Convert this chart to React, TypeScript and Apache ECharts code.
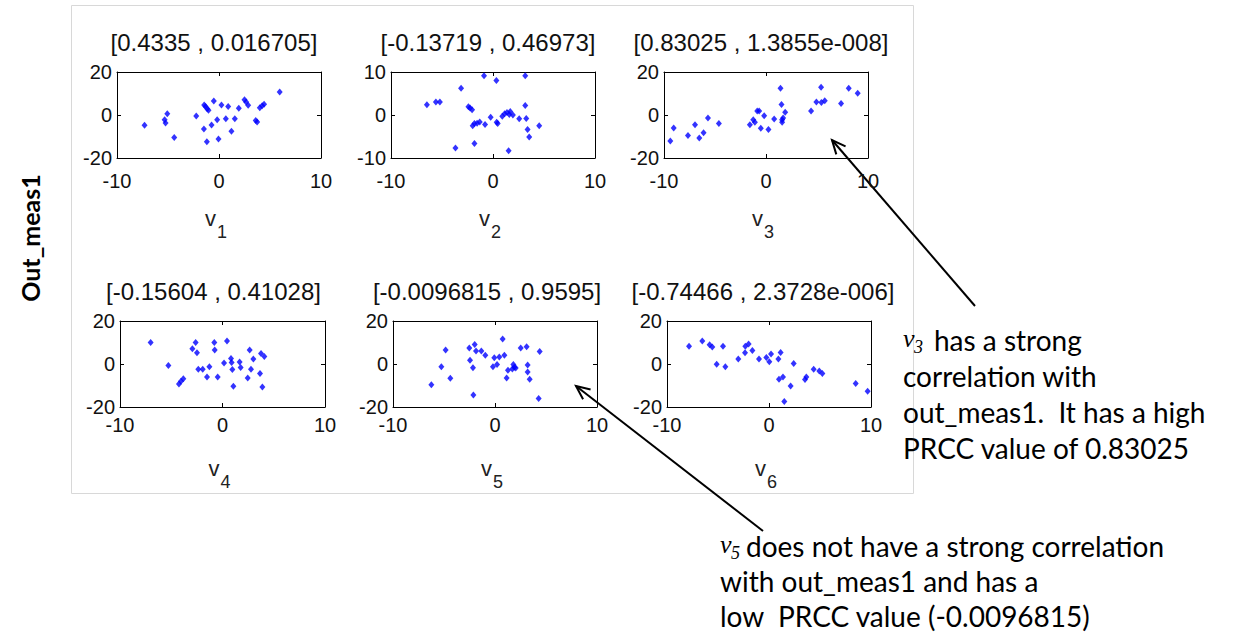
import React, { useEffect, useRef } from "react";
import * as echarts from "echarts";

// ---- data ----
const v1x = [-7.3, -5.33, -5.24, -5.07, -4.39, -2.23, -1.45, -1.32, -1.16, -1.03, -1.48, -1.19, -0.73, -0.51, -0.18, -0.05, 0.24, 0.67, 0.9, 1.22, 1.55, 1.94, 2.5, 2.66, 2.86, 3.6, 3.74, 4.0, 4.23, 4.42, 5.95];
const v1y = [-4.8, -2.2, -3.7, 0.6, -10.5, -0.5, 4.6, 4.0, 2.9, 2.2, -6.5, -12.4, -4.7, 6.5, -2.2, -11.2, 4.6, -1.7, 4.0, -7.6, -1.7, 3.1, 7.1, 6.0, 4.5, -2.5, -3.3, 3.4, 4.3, 5.0, 10.7];

const v2x = [-6.48, -5.6, -5.21, -3.13, -3.68, -2.41, -2.25, -2.05, -1.99, -1.82, -1.56, -1.3, -1.82, -0.88, -0.78, -0.23, 0.33, 0.36, 0.46, 0.91, 1.14, 1.37, 1.6, 1.69, 1.95, 1.53, 2.57, 3.16, 3.16, 3.26, 3.39, 3.55, 4.53];
const v2y = [2.4, 3.0, 3.0, 6.2, -7.7, 1.9, 1.6, 1.2, -2.5, -2.0, -1.9, -1.6, -6.6, 9.1, -2.2, -0.5, 8.0, -1.7, -2.0, -0.3, 0.3, 0.6, 0.1, 0.8, 0.0, -8.3, -0.9, 9.1, 2.2, -0.8, -3.4, -5.1, -2.5];

const v3x = [-9.38, -9.05, -7.65, -6.96, -6.54, -6.12, -5.69, -4.62, -1.58, -1.25, -1.09, -0.86, -0.67, -0.51, -0.18, 0.24, 0.8, 1.42, 1.52, 1.58, 1.58, 1.68, 1.88, 4.42, 4.94, 5.4, 5.43, 5.76, 7.36, 8.11, 8.99];
const v3y = [-12.1, -6.0, -9.5, -4.5, -10.7, -8.3, -1.4, -3.9, -4.5, -2.2, -3.4, 1.9, 1.9, -6.2, -0.4, -6.8, -1.9, 12.4, 4.9, -2.2, -3.4, -1.4, 1.3, 1.9, 6.0, 12.9, 5.8, 6.6, 5.4, 12.4, 10.1];

const v4x = [-7.01, -5.28, -4.25, -4.05, -3.82, -2.94, -2.62, -2.49, -2.36, -1.93, -1.51, -1.28, -0.8, -0.76, -0.47, 0.15, 0.44, 0.83, 0.89, 0.96, 1.06, 1.67, 1.77, 2.46, 2.65, 2.78, 3.01, 3.66, 3.76, 3.89, 4.08];
const v4y = [10.0, -0.7, -9.3, -8.0, -6.9, 7.1, 10.0, 5.2, -2.4, -2.4, -6.0, -1.3, 10.0, 6.5, -6.0, 0.5, 10.7, 2.6, 0.7, -2.6, -10.4, 0.9, -1.6, -6.5, 6.5, -2.4, 2.3, -4.4, 4.9, -10.7, 3.5];

const v5x = [-6.24, -5.26, -4.84, -4.38, -2.52, -2.45, -2.16, -2.12, -1.99, -1.86, -1.34, -0.95, -0.2, -0.07, 0.2, 0.42, 0.75, 0.92, 1.14, 1.27, 1.7, 1.8, 1.9, 2.03, 2.52, 3.1, 3.2, 3.2, 3.4, 4.28, 4.38];
const v5y = [-9.6, -1.3, 6.5, -6.6, 7.5, 1.8, -1.8, -14.4, 9.1, 6.0, 6.0, 4.1, -1.3, 2.9, -0.2, 3.3, 11.6, 4.1, -6.5, -2.9, -2.3, -0.2, -1.5, -1.9, 7.5, 8.0, -0.5, -3.7, -7.1, -16.0, 5.8];

const v6x = [-7.84, -6.54, -5.82, -5.56, -5.13, -4.51, -4.28, -3.01, -2.35, -2.32, -2.0, -1.63, -0.98, -0.26, 0.03, 0.2, 0.92, 0.98, 1.14, 1.37, 1.5, 2.12, 2.42, 3.53, 3.66, 4.38, 4.93, 5.23, 8.5, 9.67];
const v6y = [8.2, 10.7, 8.9, 7.9, -0.1, 8.2, -1.3, 2.3, 5.2, 8.3, 9.3, 6.3, 2.3, 3.0, 1.0, 4.7, 2.3, -7.1, 5.4, -6.0, -17.4, -10.2, 0.2, -7.2, -6.0, -2.4, -3.3, -4.4, -9.1, -12.7];

const titles = [
  "[0.4335 , 0.016705]",
  "[-0.13719 , 0.46973]",
  "[0.83025 , 1.3855e-008]",
  "[-0.15604 , 0.41028]",
  "[-0.0096815 , 0.9595]",
  "[-0.74466 , 2.3728e-006]",
];
const subscripts = ["1", "2", "3", "4", "5", "6"];
const xTicks = [-10, 10, 10]; // min, max, interval
const yRanges: [number, number, number][] = [
  [-20, 20, 20],
  [-10, 10, 10],
  [-20, 20, 20],
  [-20, 20, 20],
  [-20, 20, 20],
  [-20, 20, 20],
];
const yLabel = "Out_meas1";
const note1Sub = "3";
const note1First = "has a strong";
const note1 = ["correlation with", "out_meas1.  It has a high", "PRCC value of 0.83025"];
const note2Sub = "5";
const note2First = "does not have a strong correlation";
const note2 = ["with out_meas1 and has a", "low  PRCC value (-0.0096815)"];

// ---- layout ----
const grids = [
  { left: 117, top: 72, width: 204, height: 86, labelMargin: 13, nameDy: 60, titleDx: -5 },
  { left: 391, top: 72, width: 204, height: 86, labelMargin: 13, nameDy: 60, titleDx: -5 },
  { left: 664, top: 72, width: 204, height: 86, labelMargin: 13, nameDy: 60, titleDx: -5 },
  { left: 120, top: 321, width: 205, height: 86, labelMargin: 8, nameDy: 61, titleDx: -9 },
  { left: 393, top: 321, width: 204, height: 86, labelMargin: 8, nameDy: 61, titleDx: -8 },
  { left: 667, top: 321, width: 204, height: 86, labelMargin: 8, nameDy: 61, titleDx: -6 },
];

const AX_FONT = "Liberation Sans, Arial, sans-serif";
const NOTE_FONT = "Lato, 'Open Sans', sans-serif";
const SERIF = "Liberation Serif, 'Times New Roman', serif";

function arrowHead(tip: number[], tail: number[], len = 15, ang = 0.42) {
  const a = Math.atan2(tail[1] - tip[1], tail[0] - tip[0]);
  return [
    [tip[0] + len * Math.cos(a + ang), tip[1] + len * Math.sin(a + ang)],
    [tip[0], tip[1]],
    [tip[0] + len * Math.cos(a - ang), tip[1] + len * Math.sin(a - ang)],
  ];
}

export default function App() {
  const ref = useRef<HTMLDivElement>(null);
  useEffect(() => {
    if (!ref.current) return;
    const chart = echarts.init(ref.current, undefined, { renderer: "svg" });
    const xsAll = [v1x, v2x, v3x, v4x, v5x, v6x];
    const ysAll = [v1y, v2y, v3y, v4y, v5y, v6y];

    const gridOpts: any[] = [];
    const xAxes: any[] = [];
    const yAxes: any[] = [];
    const series: any[] = [];
    const graphics: any[] = [];

    graphics.push({
      type: "rect", z: -100,
      shape: { x: 71.5, y: 5.5, width: 842, height: 488 },
      style: { fill: "#fff", stroke: "#d8d8d8", lineWidth: 1 },
    });

    const lineStyle = { color: "#000", width: 1 };
    const tickStyle = { show: true, inside: true, length: 4, lineStyle: { color: "#000", width: 1 } };

    grids.forEach((g, i) => {
      gridOpts.push({ left: g.left, top: g.top, width: g.width, height: g.height, containLabel: false });
      const [ymin, ymax, yint] = yRanges[i];
      xAxes.push({
        gridIndex: i, type: "value", position: "bottom",
        min: xTicks[0], max: xTicks[1], interval: xTicks[2],
        axisLine: { show: true, onZero: false, lineStyle },
        axisTick: tickStyle,
        splitLine: { show: false },
        axisLabel: { show: true, margin: g.labelMargin, fontSize: 20, color: "#111", fontFamily: AX_FONT },
      });
      xAxes.push({
        gridIndex: i, type: "value", position: "top",
        min: xTicks[0], max: xTicks[1], interval: xTicks[2],
        axisLine: { show: true, onZero: false, lineStyle },
        axisTick: tickStyle,
        splitLine: { show: false },
        axisLabel: { show: false },
      });
      yAxes.push({
        gridIndex: i, type: "value", position: "left",
        min: ymin, max: ymax, interval: yint,
        axisLine: { show: true, onZero: false, lineStyle },
        axisTick: tickStyle,
        splitLine: { show: false },
        axisLabel: { show: true, margin: 5, fontSize: 20, color: "#111", fontFamily: AX_FONT },
      });
      yAxes.push({
        gridIndex: i, type: "value", position: "right",
        min: ymin, max: ymax, interval: yint,
        axisLine: { show: true, onZero: false, lineStyle },
        axisTick: tickStyle,
        splitLine: { show: false },
        axisLabel: { show: false },
      });
      series.push({
        type: "scatter",
        xAxisIndex: i * 2,
        yAxisIndex: i * 2,
        symbol: "diamond",
        symbolSize: [6, 7],
        itemStyle: { color: "#0000ff" },
        data: xsAll[i].map((x, k) => [x, ysAll[i][k]]),
      });
      const cx = g.left + g.width / 2;
      const bottom = g.top + g.height;
      graphics.push({
        type: "text",
        x: cx + g.titleDx,
        y: g.top - 30,
        style: { text: titles[i], fontSize: 24, fontFamily: AX_FONT, fill: "#111", align: "center", verticalAlign: "middle" },
      });
      graphics.push({
        type: "text",
        x: cx - 14,
        y: bottom + g.nameDy,
        style: { text: "v", fontSize: 22, fontFamily: AX_FONT, fill: "#222", align: "left", verticalAlign: "middle" },
      });
      graphics.push({
        type: "text",
        x: cx - 2,
        y: bottom + g.nameDy + 14,
        style: { text: subscripts[i], fontSize: 18, fontFamily: AX_FONT, fill: "#222", align: "left", verticalAlign: "middle" },
      });
    });

    graphics.push({
      type: "text",
      x: 30, y: 238, rotation: Math.PI / 2,
      style: { text: yLabel, fontSize: 25, fontWeight: "bold", fontFamily: NOTE_FONT, fill: "#000", align: "center", verticalAlign: "middle" },
    });

    const addNote = (x: number, y0: number, sub: string, first: string, rest: string[], gap: number, firstDx: number) => {
      graphics.push({
        type: "text", x, y: y0 - 2,
        style: { text: "v", fontSize: 26, fontStyle: "italic", fontFamily: SERIF, fill: "#000", align: "left", verticalAlign: "middle" },
      });
      graphics.push({
        type: "text", x: x + 11, y: y0 + 7,
        style: { text: sub, fontSize: 18, fontStyle: "italic", fontFamily: SERIF, fill: "#000", align: "left", verticalAlign: "middle" },
      });
      graphics.push({
        type: "text", x: x + firstDx, y: y0,
        style: { text: first, fontSize: 28, fontFamily: NOTE_FONT, fill: "#000", align: "left", verticalAlign: "middle" },
      });
      rest.forEach((s, k) => {
        graphics.push({
          type: "text", x, y: y0 + (k + 1) * gap,
          style: { text: s, fontSize: 28, fontFamily: NOTE_FONT, fill: "#000", align: "left", verticalAlign: "middle" },
        });
      });
    };
    addNote(903, 340, note1Sub, note1First, note1, 36, 31);
    addNote(720, 546, note2Sub, note2First, note2, 35, 26);

    const arrows = [
      { tip: [832, 140], tail: [975, 306] },
      { tip: [576, 386], tail: [763, 531] },
    ];
    arrows.forEach((a) => {
      graphics.push({
        type: "line",
        shape: { x1: a.tail[0], y1: a.tail[1], x2: a.tip[0], y2: a.tip[1] },
        style: { stroke: "#000", lineWidth: 2 },
      });
      graphics.push({
        type: "polyline",
        shape: { points: arrowHead(a.tip, a.tail) },
        style: { stroke: "#000", lineWidth: 2, fill: "none" },
      });
    });

    chart.setOption({
      animation: false,
      backgroundColor: "#fff",
      grid: gridOpts,
      xAxis: xAxes,
      yAxis: yAxes,
      series,
      graphic: graphics,
    });
    return () => chart.dispose();
  }, []);
  return <div ref={ref} style={{ position: "fixed", left: 0, top: 0, width: 1237, height: 637 }} />;
}
